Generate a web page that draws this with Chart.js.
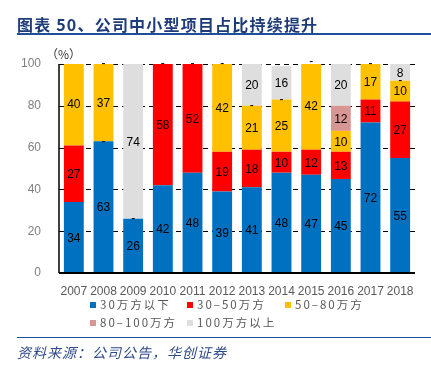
<!DOCTYPE html>
<html><head><meta charset="utf-8">
<script src="https://cdn.jsdelivr.net/npm/chart.js@4/dist/chart.umd.min.js"></script>
<style>
html,body{margin:0;padding:0;background:#fff;}
#wrap{position:relative;width:431px;height:370px;overflow:hidden;}
canvas{position:absolute;left:0;top:0;}
.t{position:absolute;white-space:nowrap;}
#title{left:17px;top:12px;font:bold 16px "Noto Sans CJK SC",sans-serif;color:#1F3C7A;letter-spacing:1.2px;}
#line1{position:absolute;left:17px;top:33px;width:414px;height:2px;background:#1F4E9A;}
#unit{left:46px;top:45px;font:12px "Noto Sans CJK SC",sans-serif;color:#333;}
.lg{position:absolute;font:11.5px "Noto Sans CJK SC",sans-serif;color:#595959;letter-spacing:2px;white-space:nowrap;line-height:14px;}
.lg i{display:inline-block;width:6px;height:6px;margin-right:4px;vertical-align:1px;}
#line2{position:absolute;left:17px;top:337px;width:414px;height:1px;background:#1F4E9A;}
#src{left:17px;top:342px;font:italic 14px "Noto Sans CJK SC",sans-serif;color:#2E4A8A;letter-spacing:1px;}
</style></head>
<body><div id="wrap">
<canvas id="c" width="431" height="370"></canvas>
<div class="t" id="title">图表 50、公司中小型项目占比持续提升</div>
<div id="line1"></div>
<div class="t" id="unit">（%）</div>
<div id="legend"></div>
<div id="line2"></div>
<div class="t" id="src">资料来源：公司公告，华创证券</div>
</div>
<script>
const categories = ["2007","2008","2009","2010","2011","2012","2013","2014","2015","2016","2017","2018"];
const seriesNames = ["30万方以下","30-50万方","50-80万方","80-100万方","100万方以上"];
const below30 = [34,63,26,42,48,39,41,48,47,45,72,55];
const from30to50 = [27,0,0,58,52,19,18,10,12,13,11,27];
const from50to80 = [40,37,null,null,null,42,21,25,42,10,17,10];
const from80to100 = [null,null,null,null,null,null,0,0,null,12,null,0];
const above100 = [null,0,74,0,0,0,20,16,0,20,0,8];
const yTicks = [0,20,40,60,80,100];
const colors = ["#0070C0","#FF0000","#FFC000","#D99594","#DEDEDE"];
const seriesData = [below30, from30to50, from50to80, from80to100, above100];

// legend
const legendPos = [[90,297],[187,297],[285,297],[90,315],[187,315]];
const lgEl = document.getElementById('legend');
seriesNames.forEach((n,i)=>{
  const d=document.createElement('div');d.className='lg';
  d.style.left=legendPos[i][0]+'px';d.style.top=legendPos[i][1]+'px';
  d.innerHTML='<i style="background:'+colors[i]+'"></i>'+n.replace('-','–');
  lgEl.appendChild(d);
});

const labelPlugin = {
  id:'lbl',
  afterDatasetsDraw(chart){
    const ctx=chart.ctx;ctx.save();
    ctx.fillStyle='#000';ctx.textAlign='center';ctx.textBaseline='middle';
    ctx.font='12px "Liberation Sans", Arial, sans-serif';
    chart.data.datasets.forEach((ds,di)=>{
      const meta=chart.getDatasetMeta(di);
      meta.data.forEach((el,i)=>{
        const v=ds.data[i];
        if(v===null||v===undefined) return;
        if(v===0){ctx.fillText('-',el.x,el.y);return;}
        ctx.fillText(String(v),el.x,(el.y+el.base)/2+1);
      });
    });
    ctx.restore();
  }
};

const gridPlugin = {
  id:'grid',
  beforeDatasetsDraw(chart){
    const {ctx,chartArea:a,scales:{y}}=chart;
    ctx.save();ctx.strokeStyle='#000';ctx.lineWidth=1;ctx.setLineDash([5,4]);
    yTicks.forEach(t=>{ if(t===0) return;
      const yy=Math.round(y.getPixelForValue(t))+0.5;
      ctx.beginPath();ctx.moveTo(a.left,yy);ctx.lineTo(a.right,yy);ctx.stroke();
    });
    ctx.restore();
  },
  afterDatasetsDraw(chart){
    const {ctx,chartArea:a}=chart;
    ctx.save();ctx.strokeStyle='#000';
    ctx.lineWidth=1.5;ctx.beginPath();ctx.moveTo(a.left,a.top);ctx.lineTo(a.left,a.bottom);ctx.stroke();
    ctx.lineWidth=2;ctx.beginPath();ctx.moveTo(a.left,a.bottom);ctx.lineTo(a.right,a.bottom);ctx.stroke();
    ctx.restore();
  }
};

new Chart(document.getElementById('c'),{
  type:'bar',
  data:{labels:categories,datasets:seriesData.map((d,i)=>({label:seriesNames[i],data:d,backgroundColor:colors[i],borderWidth:0,barPercentage:0.67,categoryPercentage:1}))},
  options:{
    responsive:false,animation:false,
    layout:{padding:{left:0,top:64,right:16,bottom:0}},
    plugins:{legend:{display:false},tooltip:{enabled:false}},
    scales:{
      x:{stacked:true,grid:{display:false,drawTicks:false},border:{display:false},
        ticks:{color:'#595959',font:{size:12,family:'"Liberation Sans", Arial, sans-serif'},padding:11,maxRotation:0,autoSkip:false},
        afterFit(s){s.height=97;}},
      y:{stacked:true,min:0,max:100,grid:{display:false,drawTicks:false},border:{display:false},
        afterBuildTicks(s){s.ticks=yTicks.map(v=>({value:v}));},
        ticks:{color:'#7F7F7F',font:{size:12,family:'"Liberation Sans", Arial, sans-serif'},padding:18},
        afterFit(s){s.width=59;}}
    }
  },
  plugins:[gridPlugin,labelPlugin]
});
</script>
</body></html>
